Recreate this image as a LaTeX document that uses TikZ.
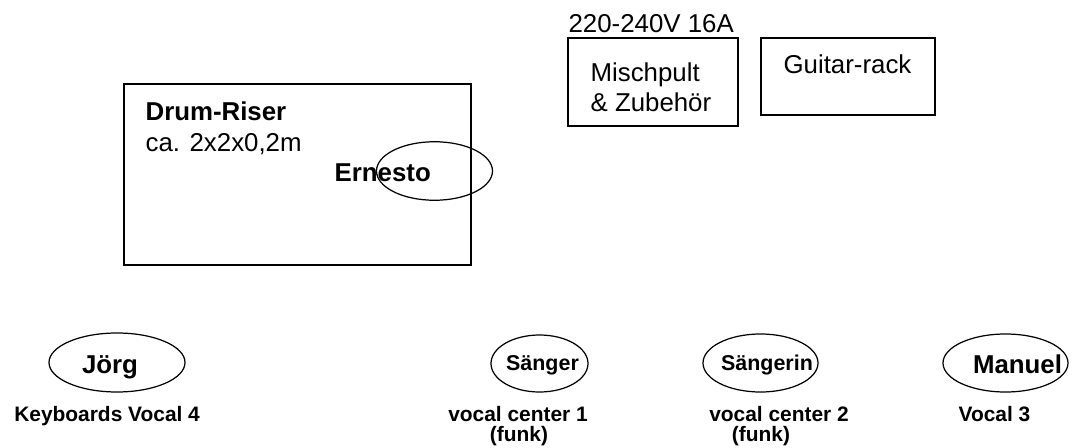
\documentclass[tikz,border=0pt]{standalone}
\usepackage{fontspec}
\setmainfont{Liberation Sans}
\usetikzlibrary{shapes.geometric}
\newcommand{\largetext}{\fontsize{14.7}{17.6}\selectfont}
\newcommand{\midtext}{\fontsize{12.2}{14.6}\selectfont}
\newcommand{\roletext}{\fontsize{11.9}{14.3}\selectfont\bfseries}

\begin{document}
\begin{tikzpicture}[line width=0.7pt,
  box/.style={draw,rectangle,inner sep=0pt},
  spot/.style={draw,ellipse,inner sep=0pt},
  txt/.style={inner sep=0pt,anchor=base west,font=\largetext},
  who/.style={inner sep=0pt,anchor=base,font=\largetext\bfseries},
  role/.style={inner sep=0pt,anchor=base,font=\roletext}]
  \useasboundingbox (0,0) rectangle (21.44,8.94);
  % drum riser
  \node[box,minimum width=6.94cm,minimum height=3.62cm] (riser) at (5.95,5.45) {};
  \node[txt,font=\largetext\bfseries] (riserlbl) at (2.90,6.54) {Drum-Riser};
  \node[txt] (risersize) at (2.90,5.91) {ca. 2x2x0,2m};
  \node[txt,font=\largetext\bfseries] (ernesto) at (6.68,5.31) {Ernesto};
  \node[spot,minimum width=2.32cm,minimum height=1.17cm] (drums) at (8.69,5.52) {};
  % mixer and rack
  \node[box,minimum width=3.40cm,minimum height=1.76cm] (mixer) at (13.06,7.30) {};
  \node[txt] (power) at (11.36,8.28) {220-240V 16A};
  \node[txt] (mixer1) at (11.80,7.30) {Mischpult};
  \node[txt] (mixer2) at (11.80,6.70) {\& Zubehör};
  \node[box,minimum width=3.48cm,minimum height=1.54cm] (rack) at (16.96,7.41) {};
  \node[txt] (racklbl) at (15.66,7.48) {Guitar-rack};
  % front line
  \node[spot,minimum width=2.72cm,minimum height=1.18cm] (joerg) at (2.34,1.69) {};
  \node[spot,minimum width=1.94cm,minimum height=1.14cm] (saenger) at (10.79,1.67) {};
  \node[spot,minimum width=2.30cm,minimum height=1.16cm] (saengerin) at (15.21,1.68) {};
  \node[spot,minimum width=2.50cm,minimum height=1.16cm] (manuel) at (20.11,1.68) {};
  \node[who] (joergname) at (2.20,1.48) {Jörg};
  \node[who,font=\midtext\bfseries] (saengername) at (10.85,1.54) {Sänger};
  \node[who,font=\midtext\bfseries] (saengerinname) at (15.34,1.54) {Sängerin};
  \node[who] (manuelname) at (20.35,1.48) {Manuel};
  \node[role,anchor=base east] (joergrole) at (4.01,0.52) {Keyboards Vocal 4};
  \node[role] (saengerrole) at (10.36,0.52) {vocal center 1};
  \node[role] (saengerfunk) at (10.38,0.12) {(funk)};
  \node[role] (saengerinrole) at (15.58,0.52) {vocal center 2};
  \node[role] (saengerinfunk) at (15.22,0.12) {(funk)};
  \node[role,anchor=base west] (manuelrole) at (19.16,0.52) {Vocal 3};
\end{tikzpicture}
\end{document}
